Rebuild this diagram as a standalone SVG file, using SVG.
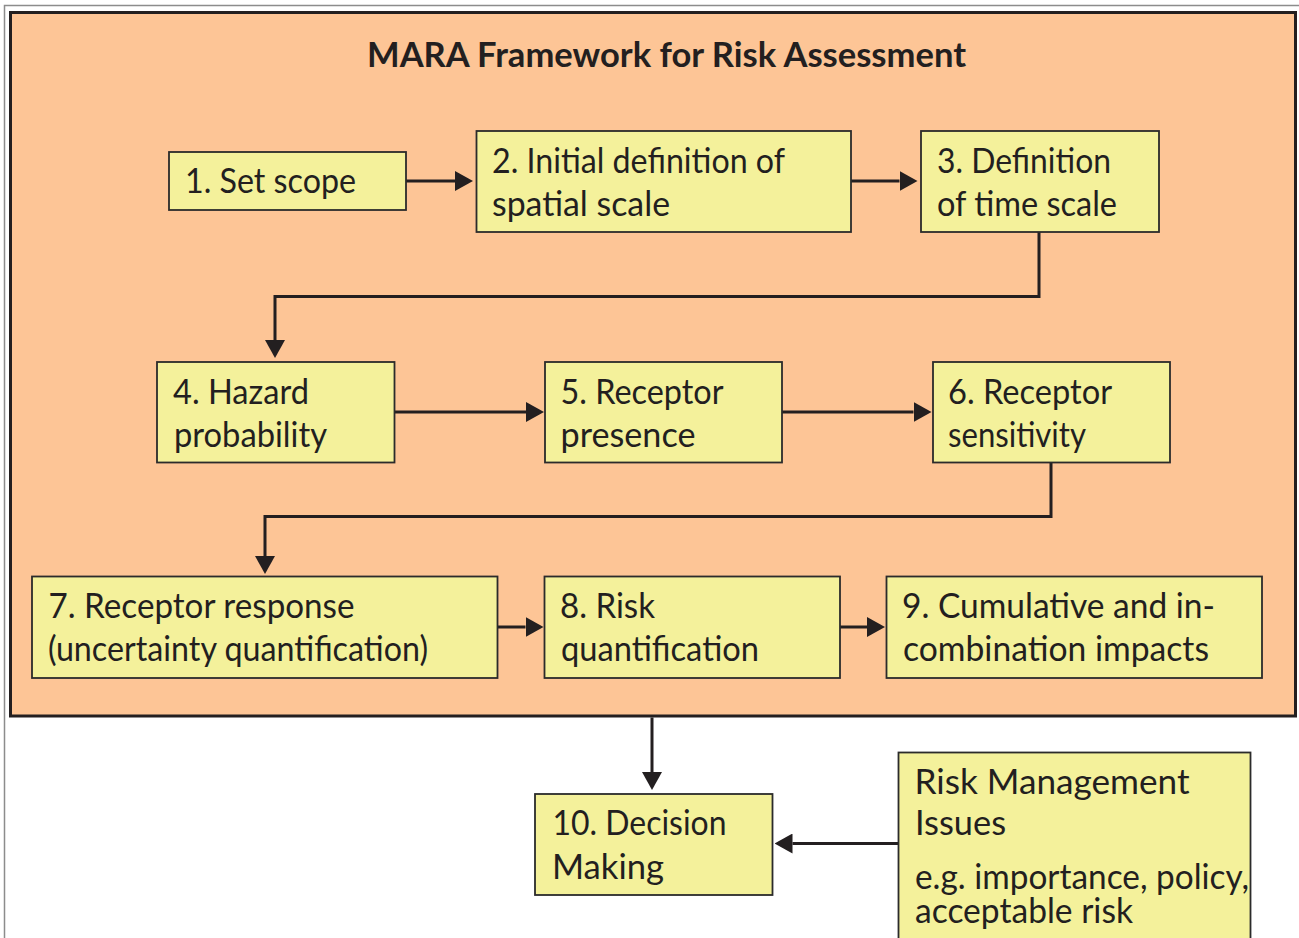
<svg xmlns="http://www.w3.org/2000/svg" width="1299" height="938" viewBox="0 0 1299 938">
<style>
.bg{fill:#ffffff}
.frame{fill:none;stroke:#8c8c8c;stroke-width:1.5}
.panel{fill:#fdc596;stroke:#231f20;stroke-width:3}
.box{fill:#f4f19b;stroke:#2b2b2b;stroke-width:1.8}
.t{font-family:Lato,"Open Sans","Liberation Sans",sans-serif;font-size:35px;fill:#231f20}
.title{font-family:Lato,"Open Sans","Liberation Sans",sans-serif;font-size:34px;font-weight:bold;fill:#231f20}
.c{fill:none;stroke:#231f20;stroke-width:3}
</style>
<defs>
<marker id="ah" markerUnits="userSpaceOnUse" markerWidth="18" markerHeight="20" refX="0" refY="10" orient="auto">
<path d="M0,0 L18,10 L0,20 Z" fill="#231f20"/>
</marker>
</defs>
<rect class="bg" x="0" y="0" width="1299" height="938"/>
<path class="frame" d="M4.5,940 V5.5 H1300"/>
<g id="framework">
<rect class="panel" x="10.5" y="12.5" width="1285" height="703.5"/>
<text class="title" x="367" y="67" textLength="599" lengthAdjust="spacingAndGlyphs">MARA Framework for Risk Assessment</text>
</g>
<g id="connectors">
<path class="c" d="M406,181 H455" marker-end="url(#ah)"/>
<path class="c" d="M851,181 H899.5" marker-end="url(#ah)"/>
<path class="c" d="M1039,232 V296.5 H275 V340" marker-end="url(#ah)"/>
<path class="c" d="M394.5,412 H526" marker-end="url(#ah)"/>
<path class="c" d="M782,412 H913.5" marker-end="url(#ah)"/>
<path class="c" d="M1051,463 V516.5 H265 V556" marker-end="url(#ah)"/>
<path class="c" d="M497.5,627 H525.5" marker-end="url(#ah)"/>
<path class="c" d="M840,627 H867" marker-end="url(#ah)"/>
<path class="c" d="M652,717.5 V772" marker-end="url(#ah)"/>
<path class="c" d="M898.5,843.5 H792.5" marker-end="url(#ah)"/>
</g>
<g id="n1">
<rect class="box" x="169" y="152" width="237" height="58"/>
<text class="t" x="185" y="193" textLength="171" lengthAdjust="spacingAndGlyphs">1. Set scope</text>
</g>
<g id="n2">
<rect class="box" x="476.5" y="131" width="374.5" height="101"/>
<text class="t" x="492" y="172.5" textLength="293" lengthAdjust="spacingAndGlyphs">2. Initial definition of</text>
<text class="t" x="492" y="216" textLength="178" lengthAdjust="spacingAndGlyphs">spatial scale</text>
</g>
<g id="n3">
<rect class="box" x="921" y="131" width="238" height="101"/>
<text class="t" x="937" y="172.5" textLength="174" lengthAdjust="spacingAndGlyphs">3. Definition</text>
<text class="t" x="937" y="216" textLength="180" lengthAdjust="spacingAndGlyphs">of time scale</text>
</g>
<g id="n4">
<rect class="box" x="157" y="362" width="237.5" height="100.5"/>
<text class="t" x="173" y="403.5" textLength="136" lengthAdjust="spacingAndGlyphs">4. Hazard</text>
<text class="t" x="174" y="447" textLength="153" lengthAdjust="spacingAndGlyphs">probability</text>
</g>
<g id="n5">
<rect class="box" x="545" y="362" width="237" height="100.5"/>
<text class="t" x="560.5" y="403.5" textLength="163" lengthAdjust="spacingAndGlyphs">5. Receptor</text>
<text class="t" x="560.5" y="447" textLength="135" lengthAdjust="spacingAndGlyphs">presence</text>
</g>
<g id="n6">
<rect class="box" x="933" y="362" width="237" height="100.5"/>
<text class="t" x="948" y="403.5" textLength="164" lengthAdjust="spacingAndGlyphs">6. Receptor</text>
<text class="t" x="948" y="447" textLength="138" lengthAdjust="spacingAndGlyphs">sensitivity</text>
</g>
<g id="n7">
<rect class="box" x="32" y="576.5" width="465.5" height="101.5"/>
<text class="t" x="48.5" y="617.5" textLength="306" lengthAdjust="spacingAndGlyphs">7. Receptor response</text>
<text class="t" x="48" y="661" textLength="380" lengthAdjust="spacingAndGlyphs">(uncertainty quantification)</text>
</g>
<g id="n8">
<rect class="box" x="544.5" y="576.5" width="295.5" height="101.5"/>
<text class="t" x="560" y="617.5" textLength="95" lengthAdjust="spacingAndGlyphs">8. Risk</text>
<text class="t" x="561" y="661" textLength="198" lengthAdjust="spacingAndGlyphs">quantification</text>
</g>
<g id="n9">
<rect class="box" x="886.5" y="576.5" width="375.5" height="101.5"/>
<text class="t" x="902" y="617.5" textLength="313" lengthAdjust="spacingAndGlyphs">9. Cumulative and in-</text>
<text class="t" x="903" y="661" textLength="306" lengthAdjust="spacingAndGlyphs">combination impacts</text>
</g>
<g id="n10">
<rect class="box" x="535" y="794" width="237.5" height="101"/>
<text class="t" x="552.5" y="834.5" textLength="174" lengthAdjust="spacingAndGlyphs">10. Decision</text>
<text class="t" x="552" y="878.5" textLength="112" lengthAdjust="spacingAndGlyphs">Making</text>
</g>
<g id="riskmgmt">
<rect class="box" x="898.5" y="752.5" width="352" height="200"/>
<text class="t" x="914.5" y="794" textLength="275" lengthAdjust="spacingAndGlyphs">Risk Management</text>
<text class="t" x="915" y="834.5" textLength="91" lengthAdjust="spacingAndGlyphs">Issues</text>
<text class="t" x="915" y="888.5" textLength="334" lengthAdjust="spacingAndGlyphs">e.g. importance, policy,</text>
<text class="t" x="915" y="923" textLength="218" lengthAdjust="spacingAndGlyphs">acceptable risk</text>
</g>
</svg>
